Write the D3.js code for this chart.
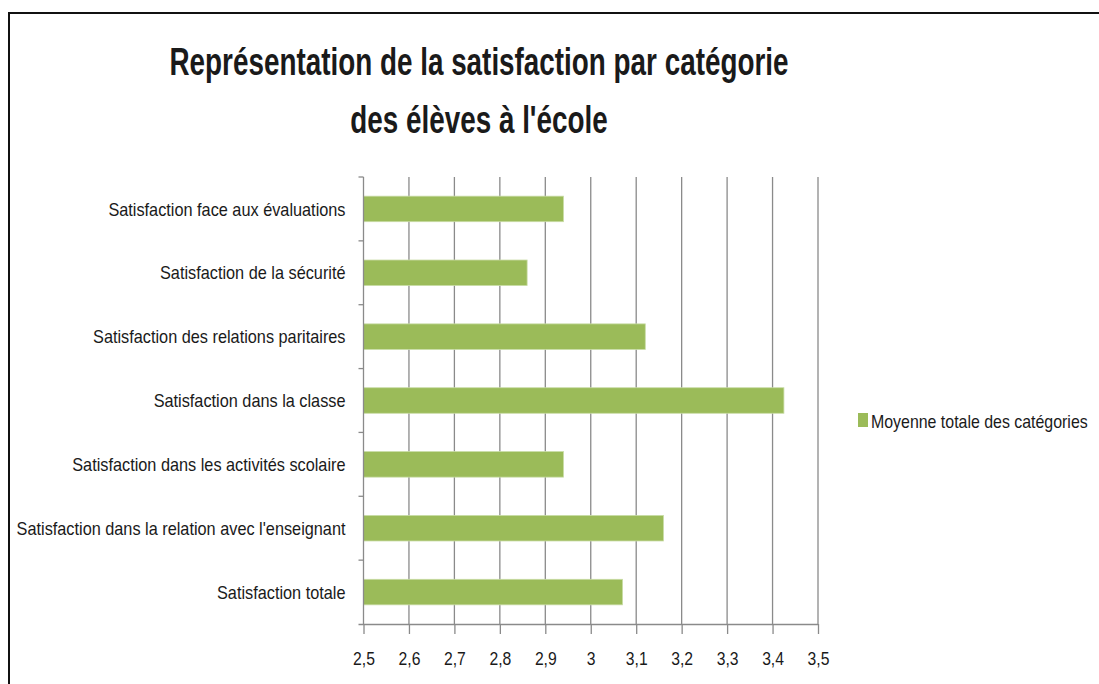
<!DOCTYPE html>
<html>
<head>
<meta charset="utf-8">
<script src="https://cdn.jsdelivr.net/npm/d3@7"></script>
<style>
  html, body { margin: 0; padding: 0; background: #fff; }
  svg { display: block; }
  text { font-family: "Liberation Sans Narrow", "Liberation Sans", Arial, sans-serif; fill: #1a1a1a; }
</style>
</head>
<body>
<svg id="chart" width="1099" height="684"></svg>
<script>
const titleLines = ["Représentation de la satisfaction par catégorie", "des élèves à l'école"];
const categories = [
  "Satisfaction face aux évaluations",
  "Satisfaction de la sécurité",
  "Satisfaction des relations paritaires",
  "Satisfaction dans la classe",
  "Satisfaction dans les activités scolaire",
  "Satisfaction dans la relation avec l'enseignant",
  "Satisfaction totale"
];
const values = [2.94, 2.86, 3.12, 3.425, 2.94, 3.16, 3.07];
const seriesName = "Moyenne totale des catégories";
const tickValues = [2.5, 2.6, 2.7, 2.8, 2.9, 3.0, 3.1, 3.2, 3.3, 3.4, 3.5];
const tickLabels = ["2,5", "2,6", "2,7", "2,8", "2,9", "3", "3,1", "3,2", "3,3", "3,4", "3,5"];

const barColor = "#9BBB59";
const gridColor = "#8a8a8a";

// condense text horizontally (reference uses a narrow font)
function condense(sel, k) {
  sel.each(function () {
    const w = this.getComputedTextLength();
    d3.select(this).attr("textLength", w * k).attr("lengthAdjust", "spacingAndGlyphs");
  });
}

const svg = d3.select("#chart");

// outer frame
svg.append("rect")
  .attr("x", 9).attr("y", 13).attr("width", 1200).attr("height", 800)
  .attr("fill", "none").attr("stroke", "#111").attr("stroke-width", 2);

const plot = { left: 363.5, right: 818, top: 177, bottom: 624 };

const x = d3.scaleLinear().domain([2.5, 3.5]).range([plot.left, plot.right]);
const y = d3.scaleBand().domain(categories).range([plot.top, plot.bottom])
  .paddingInner(0.6).paddingOuter(0.3);

// title
svg.append("g").selectAll("text").data(titleLines).join("text")
  .attr("x", 479)
  .attr("y", (d, i) => 75 + i * 58)
  .attr("text-anchor", "middle")
  .attr("font-weight", "bold")
  .attr("font-size", 39)
  .text(d => d)
  .call(condense, 0.714);

// vertical gridlines
svg.append("g").selectAll("line").data(tickValues.slice(1)).join("line")
  .attr("x1", d => x(d)).attr("x2", d => x(d))
  .attr("y1", plot.top).attr("y2", plot.bottom)
  .attr("stroke", gridColor).attr("stroke-width", 1.3);

// bars
svg.append("g").selectAll("rect").data(values).join("rect")
  .attr("x", x(2.5))
  .attr("y", (d, i) => y(categories[i]))
  .attr("width", d => x(d) - x(2.5))
  .attr("height", y.bandwidth())
  .attr("fill", barColor)
  .attr("stroke", "#c9dca6").attr("stroke-width", 0.8);

// x axis
const xAxis = d3.axisBottom(x)
  .tickValues(tickValues)
  .tickFormat((d, i) => tickLabels[i])
  .tickSize(10)
  .tickPadding(18)
  .tickSizeOuter(0);
const gx = svg.append("g").attr("transform", `translate(0,${plot.bottom})`).call(xAxis);
gx.select(".domain").attr("stroke", gridColor).attr("stroke-width", 1.3)
  .attr("d", `M${plot.left - 5},0.5H${plot.right}`);
gx.selectAll(".tick line").attr("stroke", gridColor).attr("stroke-width", 1.3);
gx.selectAll(".tick text")
  .attr("font-size", 18.5)
  .attr("font-family", "Liberation Sans Narrow, Liberation Sans, Arial, sans-serif")
  .attr("fill", "#1a1a1a")
  .call(condense, 0.85);

// y axis
const gy = svg.append("g").attr("transform", `translate(${plot.left},0)`);
gy.append("line")
  .attr("x1", 0).attr("x2", 0).attr("y1", plot.top).attr("y2", plot.bottom)
  .attr("stroke", gridColor).attr("stroke-width", 1.3);
const bnds = [plot.top].concat(categories.slice(1).map(c => y(c) - y.step() * y.paddingInner() / 2));
gy.selectAll("line.tk").data(bnds).join("line").attr("class", "tk")
  .attr("x1", -5).attr("x2", 0)
  .attr("y1", d => d).attr("y2", d => d)
  .attr("stroke", gridColor).attr("stroke-width", 1.3);
gy.selectAll("text").data(categories).join("text")
  .attr("x", -18)
  .attr("y", d => y(d) + y.bandwidth() / 2)
  .attr("dy", "0.36em")
  .attr("text-anchor", "end")
  .attr("font-size", 18.5)
  .text(d => d)
  .call(condense, 0.88);

// legend
const lg = svg.append("g").attr("transform", "translate(858,413)");
lg.append("rect").attr("width", 10).attr("height", 14).attr("fill", barColor);
lg.append("text").attr("x", 13).attr("y", 15).attr("font-size", 18.5).text(seriesName)
  .call(condense, 0.86);
</script>
</body>
</html>
